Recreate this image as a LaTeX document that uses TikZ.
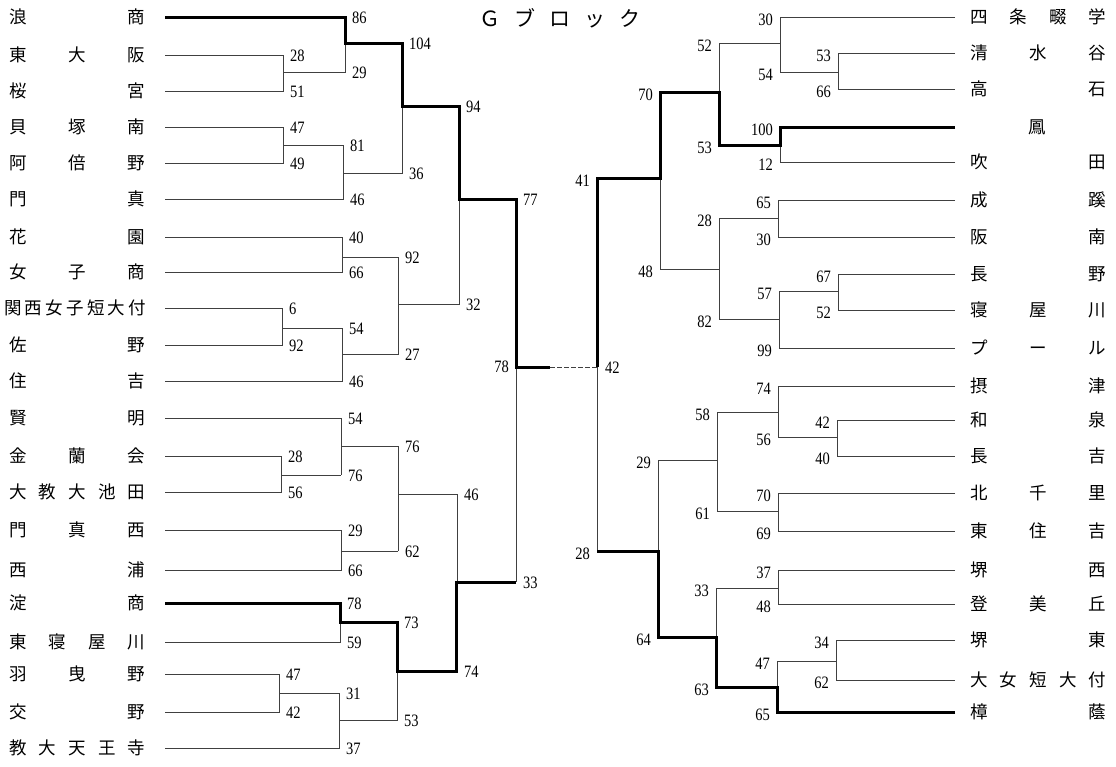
\documentclass[tikz,border=0pt]{standalone}
\usepackage{graphicx}
\usepackage{fontspec}
\setmainfont{Liberation Serif}
\newfontfamily\jp{Noto Sans CJK JP}
\newcommand\lab[3]{\node[num,anchor=west] at (#1+7,#2+1) {\scalebox{1}[1.2]{#3}};}
\newcommand\rab[3]{\node[num,anchor=east] at (#1-7,#2+3) {\scalebox{1}[1.2]{#3}};}
\newcommand\lteam[3]{\node[team,anchor=west] (#1) at (9,#2) {\makebox[136pt][s]{#3}};}
\newcommand\rteam[3]{\node[team,anchor=west] (#1) at (970,#2) {\makebox[136pt][s]{#3}};}
\begin{document}
\begin{tikzpicture}[x=1pt,y=-1pt,
  lose/.style={draw=black!75,line width=0.9pt},
  win/.style={draw=black,line width=3pt,line join=miter},
  num/.style={inner sep=0pt,font=\fontsize{14.5}{14.5}\selectfont},
  team/.style={inner sep=0pt,font=\jp\fontsize{17.5}{17.5}\selectfont},
  titlestyle/.style={inner sep=0pt,font=\jp\fontsize{21}{21}\selectfont}]
\useasboundingbox[fill=white] (0,0) rectangle (1116,766);

\node[titlestyle] (title) at (560,18) {Ｇ\hspace{14pt}ブ\hspace{14pt}ロ\hspace{14pt}ッ\hspace{14pt}ク};

% ---------- left teams ----------
\lteam{L1}{17}{浪\hfill 商}
\lteam{L2}{55}{東\hfill 大\hfill 阪}
\lteam{L3}{91}{桜\hfill 宮}
\lteam{L4}{127}{貝\hfill 塚\hfill 南}
\lteam{L5}{163}{阿\hfill 倍\hfill 野}
\lteam{L6}{199}{門\hfill 真}
\lteam{L7}{237}{花\hfill 園}
\lteam{L8}{272}{女\hfill 子\hfill 商}
\node[team,anchor=west] (L9) at (4,308) {\makebox[142pt][s]{関\hfill 西\hfill 女\hfill 子\hfill 短\hfill 大\hfill 付}};
\lteam{L10}{345}{佐\hfill 野}
\lteam{L11}{381}{住\hfill 吉}
\lteam{L12}{418}{賢\hfill 明}
\lteam{L13}{456}{金\hfill 蘭\hfill 会}
\lteam{L14}{492}{大\hfill 教\hfill 大\hfill 池\hfill 田}
\lteam{L15}{530}{門\hfill 真\hfill 西}
\lteam{L16}{570}{西\hfill 浦}
\lteam{L17}{603}{淀\hfill 商}
\lteam{L18}{642}{東\hfill 寝\hfill 屋\hfill 川}
\lteam{L19}{674}{羽\hfill 曳\hfill 野}
\lteam{L20}{712}{交\hfill 野}
\lteam{L21}{748}{教\hfill 大\hfill 天\hfill 王\hfill 寺}

% ---------- right teams ----------
\rteam{R1}{17}{四\hfill 条\hfill 畷\hfill 学}
\rteam{R2}{53}{清\hfill 水\hfill 谷}
\rteam{R3}{89}{高\hfill 石}
\node[team] (R4) at (1037,127) {鳳};
\rteam{R5}{162}{吹\hfill 田}
\rteam{R6}{200}{成\hfill 蹊}
\rteam{R7}{237}{阪\hfill 南}
\rteam{R8}{274}{長\hfill 野}
\rteam{R9}{310}{寝\hfill 屋\hfill 川}
\rteam{R10}{348}{プ\hfill ー\hfill ル}
\rteam{R11}{386}{摂\hfill 津}
\rteam{R12}{420}{和\hfill 泉}
\rteam{R13}{456}{長\hfill 吉}
\rteam{R14}{493}{北\hfill 千\hfill 里}
\rteam{R15}{531}{東\hfill 住\hfill 吉}
\rteam{R16}{570}{堺\hfill 西}
\rteam{R17}{604}{登\hfill 美\hfill 丘}
\rteam{R18}{640}{堺\hfill 東}
\rteam{R19}{680}{大\hfill 女\hfill 短\hfill 大\hfill 付}
\rteam{R20}{712}{樟\hfill 蔭}

% ---------- left bracket (thin) ----------
\draw[lose] (165,55) -- (283,55) -- (283,91) -- (165,91);
\draw[lose] (283,72) -- (345,72) -- (345,17);
\draw[lose] (165,127) -- (283,127) -- (283,163) -- (165,163);
\draw[lose] (283,145) -- (343,145) -- (343,199) -- (165,199);
\draw[lose] (343,173) -- (402,173) -- (402,43);
\draw[lose] (165,237) -- (342,237) -- (342,272) -- (165,272);
\draw[lose] (165,308) -- (282,308) -- (282,345) -- (165,345);
\draw[lose] (282,328) -- (342,328) -- (342,381) -- (165,381);
\draw[lose] (342,257) -- (398,257) -- (398,354) -- (342,354);
\draw[lose] (398,304) -- (459,304) -- (459,106);
\draw[lose] (516,367) -- (516,582);
\draw[lose] (165,418) -- (341,418) -- (341,475);
\draw[lose] (165,456) -- (281,456) -- (281,492) -- (165,492);
\draw[lose] (281,475) -- (341,475);
\draw[lose] (341,446) -- (398,446) -- (398,551);
\draw[lose] (165,530) -- (341,530) -- (341,570) -- (165,570);
\draw[lose] (341,551) -- (398,551);
\draw[lose] (398,494) -- (457,494) -- (457,582);
\draw[lose] (165,642) -- (340,642) -- (340,603);
\draw[lose] (165,674) -- (279,674) -- (279,712) -- (165,712);
\draw[lose] (279,693) -- (339,693) -- (339,748) -- (165,748);
\draw[lose] (339,720) -- (397,720) -- (397,622);
\draw[lose,dash pattern=on 5pt off 2pt] (550,367) -- (597,367);

% ---------- right bracket (thin) ----------
\draw[lose] (955,17) -- (780,17) -- (780,72);
\draw[lose] (955,53) -- (838,53) -- (838,89) -- (955,89);
\draw[lose] (838,72) -- (780,72);
\draw[lose] (780,43) -- (719,43) -- (719,145);
\draw[lose] (955,162) -- (780,162) -- (780,127);
\draw[lose] (955,200) -- (778,200) -- (778,237) -- (955,237);
\draw[lose] (778,218) -- (719,218) -- (719,319);
\draw[lose] (955,274) -- (838,274) -- (838,310) -- (955,310);
\draw[lose] (838,291) -- (779,291) -- (779,348) -- (955,348);
\draw[lose] (779,319) -- (719,319);
\draw[lose] (719,269) -- (660,269) -- (660,92);
\draw[lose] (597,367) -- (597,551);
\draw[lose] (955,386) -- (778,386) -- (778,437);
\draw[lose] (955,420) -- (837,420) -- (837,456) -- (955,456);
\draw[lose] (837,437) -- (778,437);
\draw[lose] (778,412) -- (717,412) -- (717,511);
\draw[lose] (955,493) -- (778,493) -- (778,531) -- (955,531);
\draw[lose] (778,511) -- (717,511);
\draw[lose] (717,460) -- (658,460) -- (658,551);
\draw[lose] (955,570) -- (778,570) -- (778,604) -- (955,604);
\draw[lose] (778,588) -- (716,588) -- (716,637);
\draw[lose] (955,640) -- (836,640) -- (836,680) -- (955,680);
\draw[lose] (836,661) -- (777,661) -- (777,687);

% ---------- winners (thick) ----------
\draw[win] (165,17) -- (345,17) -- (345,43) -- (402,43) -- (402,106) -- (459,106) -- (459,199) -- (516,199) -- (516,367) -- (550,367);
\draw[win] (165,603) -- (340,603) -- (340,622) -- (397,622) -- (397,671) -- (456,671) -- (456,582) -- (516,582);
\draw[win] (955,127) -- (780,127) -- (780,145) -- (719,145) -- (719,92) -- (660,92) -- (660,178) -- (597,178) -- (597,367);
\draw[win] (955,712) -- (777,712) -- (777,687) -- (716,687) -- (716,637) -- (658,637) -- (658,551) -- (597,551);

% ---------- left scores ----------
\lab{345}{17}{86}  \lab{345}{72}{29}
\lab{283}{55}{28}  \lab{283}{91}{51}
\lab{402}{43}{104} \lab{402}{173}{36}
\lab{459}{106}{94} \lab{459}{304}{32}
\lab{516}{199}{77} \lab{516}{582}{33}
\node[num,anchor=east] at (509,367) {\scalebox{1}[1.2]{78}};
\lab{343}{145}{81} \lab{343}{199}{46}
\lab{283}{127}{47} \lab{283}{163}{49}
\lab{342}{237}{40} \lab{342}{272}{66}
\lab{398}{257}{92} \lab{398}{354}{27}
\lab{282}{308}{6}  \lab{282}{345}{92}
\lab{342}{328}{54} \lab{342}{381}{46}
\lab{341}{418}{54} \lab{341}{475}{76}
\lab{281}{456}{28} \lab{281}{492}{56}
\lab{398}{446}{76} \lab{398}{551}{62}
\lab{341}{530}{29} \lab{341}{570}{66}
\lab{457}{494}{46} \lab{457}{671}{74}
\lab{340}{603}{78} \lab{340}{642}{59}
\lab{397}{622}{73} \lab{397}{720}{53}
\lab{279}{674}{47} \lab{279}{712}{42}
\lab{339}{693}{31} \lab{339}{748}{37}

% ---------- right scores ----------
\node[num,anchor=west] at (605,368) {\scalebox{1}[1.2]{42}};
\rab{597}{178}{41} \rab{597}{551}{28}
\rab{780}{17}{30}  \rab{780}{72}{54}
\rab{838}{53}{53}  \rab{838}{89}{66}
\rab{719}{43}{52}  \rab{719}{145}{53}
\rab{780}{127}{100} \rab{780}{162}{12}
\rab{660}{92}{70}  \rab{660}{269}{48}
\rab{778}{200}{65} \rab{778}{237}{30}
\rab{719}{218}{28} \rab{719}{319}{82}
\rab{838}{274}{67} \rab{838}{310}{52}
\rab{779}{291}{57} \rab{779}{348}{99}
\rab{778}{386}{74} \rab{778}{437}{56}
\rab{837}{420}{42} \rab{837}{456}{40}
\rab{717}{412}{58} \rab{717}{511}{61}
\rab{778}{493}{70} \rab{778}{531}{69}
\rab{658}{460}{29} \rab{658}{637}{64}
\rab{778}{570}{37} \rab{778}{604}{48}
\rab{716}{588}{33} \rab{716}{687}{63}
\rab{836}{640}{34} \rab{836}{680}{62}
\rab{777}{661}{47} \rab{777}{712}{65}
\end{tikzpicture}
\end{document}
